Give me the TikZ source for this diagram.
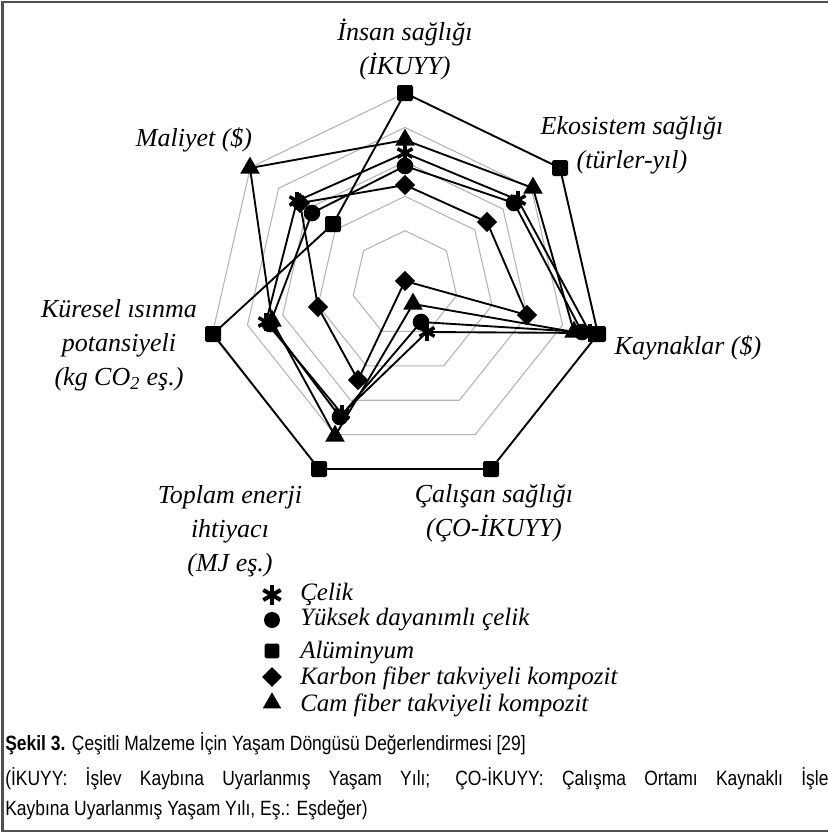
\documentclass[tikz,border=0pt]{standalone}
\usepackage{fontspec}
\setmainfont{Liberation Serif}
\newfontfamily\capfont[FakeStretch=0.845]{Liberation Sans}
\usetikzlibrary{shapes.geometric}
\definecolor{ringgray}{HTML}{B4B4B4}
\definecolor{framegray}{HTML}{505050}
\begin{document}
\begin{tikzpicture}[x=0.75pt,y=0.75pt,
  ring/.style={draw=ringgray, line width=0.8pt},
  series/.style={draw=black, line width=1.4pt, line join=round},
  sqm/.style={rectangle, fill=black, rounded corners=1.2pt, minimum size=12pt, inner sep=0pt},
  cim/.style={circle, fill=black, minimum size=12.5pt, inner sep=0pt},
  dim/.style={diamond, fill=black, minimum width=15.5pt, minimum height=15.5pt, inner sep=0pt},
  trim/.style={regular polygon, regular polygon sides=3, fill=black, minimum size=17pt, inner sep=0pt},
  astm/.style={inner sep=0pt, minimum size=13pt, path picture={
      \foreach \a in {90,30,-30}{\draw[line width=2.6pt] ([shift={(\a:6.5pt)}]path picture bounding box.center) -- ([shift={({\a+180}:6.5pt)}]path picture bounding box.center);}}},
  axlabel/.style={font=\fontsize{19.5}{25.5}\selectfont\itshape, align=center, inner sep=0pt},
  leglabel/.style={font=\fontsize{18.75}{22}\selectfont\itshape, anchor=base west, inner sep=0pt},
  caplabel/.style={font=\capfont\fontsize{15.5}{18}\selectfont, anchor=base west, inner sep=0pt}
]
\useasboundingbox (0,0) rectangle (828,-833);
\fill[white] (0,0) rectangle (828,-833);
\draw[line width=1.5pt, draw=framegray] (2.5,-1.5) rectangle (900,-830.5);

% grid rings
\foreach \i in {0,...,4}{
  \pgfmathsetmacro\rr{53+36.2*\i}
  \pgfmathsetmacro\cyy{-(283.7+1.78*\i)}
  \draw[ring, shift={(405,\cyy)}] (90:\rr) \foreach \k in {1,...,6}{ -- ({90-\k*360/7}:\rr)} -- cycle;
}

% data points
\coordinate (aT) at (405,-93);  \coordinate (aE) at (560,-168); \coordinate (aK) at (598,-334);
\coordinate (aC) at (491,-469); \coordinate (aP) at (319,-469); \coordinate (aG) at (213,-334);
\coordinate (aM) at (333,-224);
\coordinate (gT) at (405,-140); \coordinate (gE) at (533,-188); \coordinate (gK) at (574,-332);
\coordinate (gC) at (413,-304); \coordinate (gP) at (335,-436); \coordinate (gG) at (272,-321);
\coordinate (gM) at (250,-168);
\coordinate (dT) at (405,-185); \coordinate (dE) at (487,-222); \coordinate (dK) at (527,-315);
\coordinate (dC) at (405,-281); \coordinate (dP) at (358,-380); \coordinate (dG) at (318,-307);
\coordinate (dM) at (300,-203);
\coordinate (sT) at (405,-153); \coordinate (sE) at (518,-200); \coordinate (sK) at (590,-333);
\coordinate (sC) at (427,-332); \coordinate (sP) at (342,-414); \coordinate (sG) at (266,-322);
\coordinate (sM) at (297,-201);
\coordinate (cT) at (405,-166); \coordinate (cE) at (514,-203); \coordinate (cK) at (582,-332);
\coordinate (cC) at (421,-322); \coordinate (cP) at (340,-417); \coordinate (cG) at (270,-324);
\coordinate (cM) at (312,-213);

% series lines
\foreach \s in {a,g,d,s,c}{
  \draw[series] (\s T) -- (\s E) -- (\s K) -- (\s C) -- (\s P) -- (\s G) -- (\s M) -- cycle;
}

% markers
\foreach \p in {T,E,K,C,P,G,M}{
  \node[sqm] (ma\p) at (a\p) {};
  \node[dim] (md\p) at (d\p) {};
  \node[cim] (mc\p) at (c\p) {};
  \node[astm] (ms\p) at (s\p) {};
  \node[trim] (mg\p) at (g\p) {};
}

% axis labels
\node[axlabel] (lT) at (405,-50) {İnsan sağlığı\\(İKUYY)};
\node[axlabel] (lE) at (632,-145) {Ekosistem sağlığı\\(türler-yıl)};
\node[axlabel] (lK) at (688,-348) {Kaynaklar (\$)};
\node[axlabel] (lC) at (494,-513) {Çalışan sağlığı\\(ÇO-İKUYY)};
\node[axlabel] (lP) at (230,-531) {Toplam enerji\\ihtiyacı\\(MJ eş.)};
\node[axlabel] (lG) at (119,-345) {Küresel ısınma\\potansiyeli\\(kg CO\textsubscript{2} eş.)};
\node[axlabel] (lM) at (194,-140) {Maliyet (\$)};

% legend
\node[astm, minimum size=15pt, path picture={\foreach \a in {90,30,-30}{\draw[line width=3pt] ([shift={(\a:7.5pt)}]path picture bounding box.center) -- ([shift={({\a+180}:7.5pt)}]path picture bounding box.center);}}] (k1) at (272,-595) {};
\node[cim, minimum size=12pt] (k2) at (272,-620) {};
\node[sqm, minimum size=11pt] (k3) at (272,-651) {};
\node[dim, minimum width=15pt, minimum height=15pt] (k4) at (272,-677) {};
\node[trim, minimum size=16pt] (k5) at (272,-703) {};
\node[leglabel] (t1) at (300,-600) {Çelik};
\node[leglabel] (t2) at (300,-625) {Yüksek dayanımlı çelik};
\node[leglabel] (t3) at (300,-658) {Alüminyum};
\node[leglabel] (t4) at (300,-684) {Karbon fiber takviyeli kompozit};
\node[leglabel] (t5) at (300,-711) {Cam fiber takviyeli kompozit};

% caption
\node[caplabel] (c1) at (5,-750) {\textbf{Şekil 3.} Çeşitli Malzeme İçin Yaşam Döngüsü Değerlendirmesi [29]};
\node[caplabel] (c2) at (5,-785) {\makebox[624pt][s]{(İKUYY: İşlev Kaybına Uyarlanmış Yaşam Yılı; ÇO-İKUYY: Çalışma Ortamı Kaynaklı İşlev}};
\node[caplabel] (c3) at (5,-815) {Kaybına Uyarlanmış Yaşam Yılı, Eş.: Eşdeğer)};
\end{tikzpicture}
\end{document}
